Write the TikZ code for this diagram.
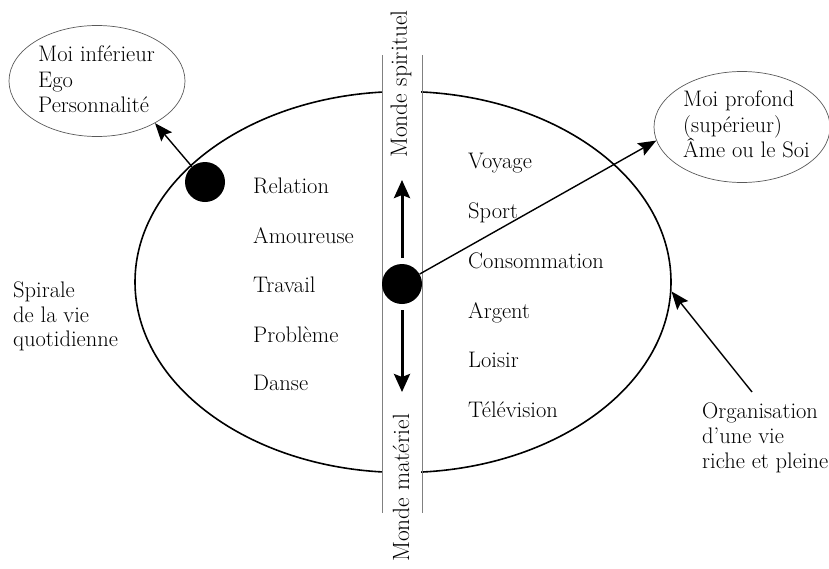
\documentclass[tikz,border=0pt]{standalone}
\usetikzlibrary{arrows.meta,shapes.geometric}
\begin{document}
\begin{tikzpicture}[x=1pt,y=-1pt,
  lbl/.style={anchor=base west, inner sep=0pt, font=\fontsize{22.5}{26}\selectfont},
  vlbl/.style={rotate=90, inner sep=0pt, font=\fontsize{23.5}{26}\selectfont},
  blackdot/.style={circle, fill=black, minimum size=40pt, inner sep=0pt},
  smallell/.style={ellipse, draw=black!65, line width=0.7pt, minimum width=176pt, minimum height=111pt, inner sep=0pt},
  bigell/.style={ellipse, draw=black, line width=1.6pt, minimum width=536pt, minimum height=381pt, inner sep=0pt},
  colline/.style={draw=black!50, line width=0.9pt},
  thinarr/.style={line width=1.4pt, -{Stealth[length=18pt,width=14pt,inset=3pt]}},
  thickarr/.style={line width=3pt, -{Stealth[length=18pt,width=16pt,inset=3pt]}}
]
\useasboundingbox (0,0) rectangle (829,568);

% main ellipse
\node[bigell] (mell) at (403,282) {};
% column
\fill[white] (383,40) rectangle (421,530);
\draw[colline] (382,55) -- (382,513);
\draw[colline] (422,55) -- (422,513);
\node[vlbl] (spir) at (401,84) {Monde spirituel};
\node[vlbl] (mat) at (401,488) {Monde matériel};

% small ellipses
\node[smallell] (lell) at (97,81) {};
\node[smallell] (rell) at (742,127) {};

% dots
\node[blackdot] (ldot) at (205,182) {};
\node[blackdot] (cdot) at (402,284) {};

% left ellipse text
\node[lbl] (l1) at (38,61) {Moi inférieur};
\node[lbl] (l2) at (38,87) {Ego};
\node[lbl] (l3) at (38,112) {Personnalité};

% right ellipse text
\node[lbl] (r1) at (683,106) {Moi profond};
\node[lbl] (r2) at (683,132) {(supérieur)};
\node[lbl] (r3) at (683,157) {Âme ou le Soi};

% left side text
\node[lbl] (s1) at (13,297) {Spirale};
\node[lbl] (s2) at (13,322) {de la vie};
\node[lbl] (s3) at (13,346) {quotidienne};

% bottom right text
\node[lbl] (o1) at (702,418) {Organisation};
\node[lbl] (o2) at (702,443) {d’une vie};
\node[lbl] (o3) at (702,468) {riche et pleine};

% left column words
\node[lbl] (a1) at (253,193) {Relation};
\node[lbl] (a2) at (253,243) {Amoureuse};
\node[lbl] (a3) at (253,292) {Travail};
\node[lbl] (a4) at (253,342) {Problème};
\node[lbl] (a5) at (253,390) {Danse};

% right column words
\node[lbl] (b1) at (468,168) {Voyage};
\node[lbl] (b2) at (468,218) {Sport};
\node[lbl] (b3) at (468,268) {Consommation};
\node[lbl] (b4) at (468,318) {Argent};
\node[lbl] (b5) at (468,367) {Loisir};
\node[lbl] (b6) at (468,417) {Télévision};

% connectors
\draw[thinarr] (ldot) -- (lell.324);
\draw[thinarr] (cdot) -- (rell.189);
\coordinate (orgtail) at (752,392);
\draw[thinarr] (orgtail) -- (mell.358);
\coordinate (uptip) at (402,180);
\coordinate (downtip) at (402,392);
\draw[thickarr, shorten <=6pt] (cdot.north) -- (uptip);
\draw[thickarr, shorten <=6pt] (cdot.south) -- (downtip);
\end{tikzpicture}
\end{document}
